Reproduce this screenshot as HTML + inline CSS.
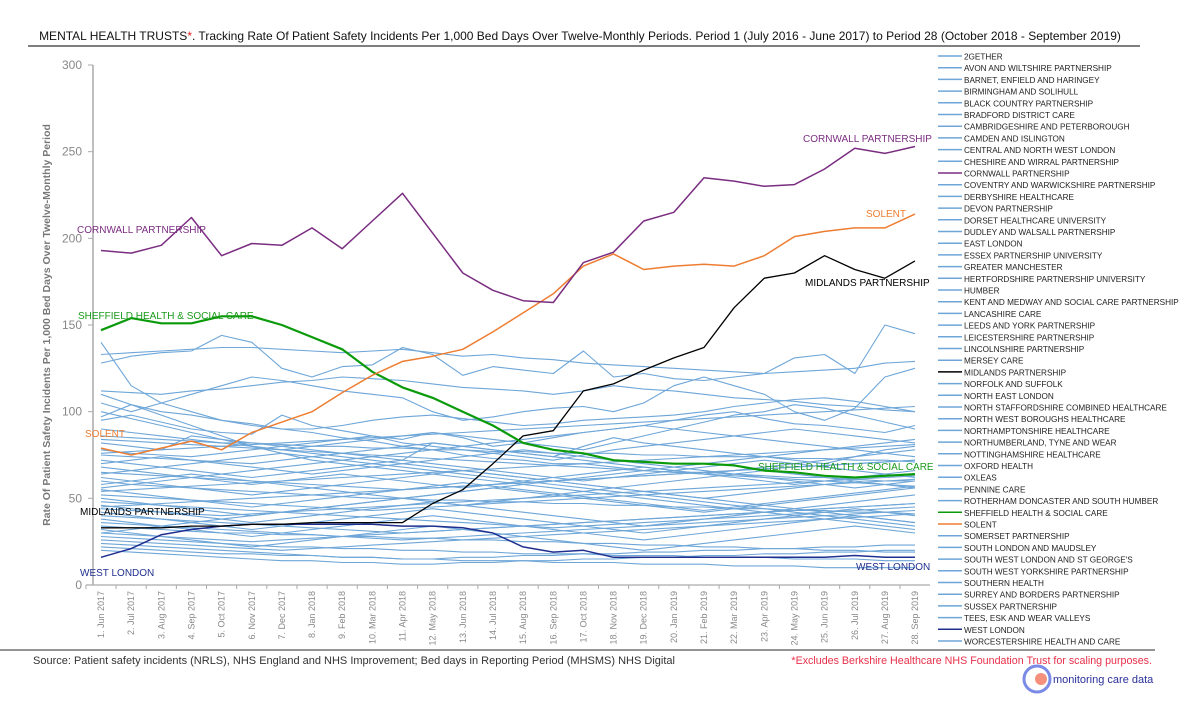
<!DOCTYPE html>
<html><head><meta charset="utf-8"><style>
html,body{margin:0;padding:0;background:#fff;}
svg{display:block;font-family:"Liberation Sans",sans-serif;}
</style></head><body>
<svg id="chart" width="1200" height="726" viewBox="0 0 1200 726">
<text x="580" y="40" text-anchor="middle" font-size="12" fill="#111">MENTAL HEALTH TRUSTS<tspan fill="#e02020">*</tspan>. Tracking Rate Of Patient Safety Incidents Per 1,000 Bed Days Over Twelve-Monthly Periods. Period 1 (July 2016 - June 2017) to Period 28 (October 2018 - September 2019)</text>
<line x1="28" y1="46" x2="1140" y2="46" stroke="#333" stroke-width="1.2"/>
<text transform="translate(50,325) rotate(-90)" text-anchor="middle" font-size="10.5" font-weight="bold" fill="#777">Rate Of Patient Safety Incidents Per 1,000 Bed Days Over Twelve-Monthly Period</text>
<g id="yaxis"></g><g id="xaxis"></g><g id="series"></g><g id="legend"></g>
<g font-size="10">
<text x="77" y="233" fill="#7a2d80">CORNWALL PARTNERSHIP</text>
<text x="803" y="142" fill="#7a2d80">CORNWALL PARTNERSHIP</text>
<text x="866" y="217" fill="#ed7d31">SOLENT</text>
<text x="85" y="437" fill="#ed7d31">SOLENT</text>
<text x="805" y="286" fill="#000">MIDLANDS PARTNERSHIP</text>
<text x="80" y="515" fill="#000">MIDLANDS PARTNERSHIP</text>
<text x="78" y="319" fill="#1a9a1a">SHEFFIELD HEALTH &amp; SOCIAL CARE</text>
<text x="758" y="470" fill="#1a9a1a">SHEFFIELD HEALTH &amp; SOCIAL CARE</text>
<text x="80" y="576" fill="#1f2f8f">WEST LONDON</text>
<text x="856" y="570" fill="#1f2f8f">WEST LONDON</text>
</g>
<line x1="0" y1="650" x2="1155" y2="650" stroke="#555" stroke-width="1.2"/>
<text x="33" y="664" font-size="11" fill="#333">Source: Patient safety incidents (NRLS), NHS England and NHS Improvement; Bed days in Reporting Period (MHSMS) NHS Digital</text>
<text x="1152" y="664" text-anchor="end" font-size="10.7" fill="#e8304a">*Excludes Berkshire Healthcare NHS Foundation Trust for scaling purposes.</text>
<g>
<circle cx="1037" cy="679" r="13" fill="none" stroke="#7a8ae6" stroke-width="3"/>
<circle cx="1041" cy="679" r="6" fill="#f4907c"/>
<text x="1053" y="683" font-size="11" fill="#2a2f9a">monitoring care data</text>
</g>
</svg>
<script>
const periods=["1. Jun 2017","2. Jul 2017","3. Aug 2017","4. Sep 2017","5. Oct 2017","6. Nov 2017","7. Dec 2017","8. Jan 2018","9. Feb 2018","10. Mar 2018","11. Apr 2018","12. May 2018","13. Jun 2018","14. Jul 2018","15. Aug 2018","16. Sep 2018","17. Oct 2018","18. Nov 2018","19. Dec 2018","20. Jan 2019","21. Feb 2019","22. Mar 2019","23. Apr 2019","24. May 2019","25. Jun 2019","26. Jul 2019","27. Aug 2019","28. Sep 2019"];
const yTicks=[0,50,100,150,200,250,300];
const trustNames=["2GETHER","AVON AND WILTSHIRE  PARTNERSHIP","BARNET, ENFIELD AND HARINGEY","BIRMINGHAM AND SOLIHULL","BLACK COUNTRY PARTNERSHIP","BRADFORD DISTRICT CARE","CAMBRIDGESHIRE AND PETERBOROUGH","CAMDEN AND ISLINGTON","CENTRAL AND NORTH WEST LONDON","CHESHIRE AND WIRRAL PARTNERSHIP","CORNWALL PARTNERSHIP","COVENTRY AND WARWICKSHIRE PARTNERSHIP","DERBYSHIRE HEALTHCARE","DEVON PARTNERSHIP","DORSET HEALTHCARE UNIVERSITY","DUDLEY AND WALSALL  PARTNERSHIP","EAST LONDON","ESSEX PARTNERSHIP UNIVERSITY","GREATER MANCHESTER","HERTFORDSHIRE PARTNERSHIP UNIVERSITY","HUMBER","KENT AND MEDWAY  AND SOCIAL CARE PARTNERSHIP","LANCASHIRE CARE","LEEDS AND YORK PARTNERSHIP","LEICESTERSHIRE PARTNERSHIP","LINCOLNSHIRE PARTNERSHIP","MERSEY CARE","MIDLANDS PARTNERSHIP","NORFOLK AND SUFFOLK","NORTH EAST LONDON","NORTH STAFFORDSHIRE COMBINED HEALTHCARE","NORTH WEST BOROUGHS HEALTHCARE","NORTHAMPTONSHIRE HEALTHCARE","NORTHUMBERLAND, TYNE AND WEAR","NOTTINGHAMSHIRE HEALTHCARE","OXFORD HEALTH","OXLEAS","PENNINE CARE","ROTHERHAM DONCASTER AND SOUTH HUMBER","SHEFFIELD HEALTH & SOCIAL CARE","SOLENT","SOMERSET PARTNERSHIP","SOUTH LONDON AND MAUDSLEY","SOUTH WEST LONDON AND ST GEORGE'S","SOUTH WEST YORKSHIRE PARTNERSHIP","SOUTHERN HEALTH","SURREY AND BORDERS PARTNERSHIP","SUSSEX PARTNERSHIP","TEES, ESK AND WEAR VALLEYS","WEST LONDON","WORCESTERSHIRE HEALTH AND CARE"];
const cornwall=[193,191.5,196,212,190,197,196,206,194,210,226,203,180,170,164,163,186,192,210,215,235,233,230,231,240,252,249,253];
const solent=[79,75,79,83,78,88,94,100,111,121,129,132,136,146,157,168,184,191,182,184,185,184,190,201,204,206,206,214];
const sheffield=[147,154,151,151,155,155,150,143,136,123,114,108,100,92,82,78,76,72,71,70,70,69,66,65,63,62,63,64];
const midlands=[33,33,33,34,34,35,35,36,36,36,36,47,55,70,86,89,112,116,124,131,137,160,177,180,190,182,177,187];
const westLondon=[16,21,29,32,34,35,35,35,35,35,34,34,33,30,22,19,20,16,16,16,16,16,16,16,16,17,16,16];
const other1=[140,115,105,100,95,93,90,88,85,83,80,78,75,73,72,70,70,68,66,65,65,64,63,62,62,61,60,60];
const other2=[133,134,135,136,137,137,136,135,134,135,136,134,132,133,131,130,128,127,126,125,124,123,122,123,124,125,128,129];
const other3=[128,132,134,135,144,140,125,120,126,127,137,133,121,126,124,122,135,120,122,119,118,120,122,131,133,122,150,145];
const other4=[112,111,110,112,113,115,117,118,120,119,118,116,114,113,112,110,112,115,113,112,110,108,107,106,104,103,101,100];
const other5=[105,100,105,110,115,120,118,115,112,110,108,100,95,97,100,102,103,100,105,115,120,115,110,100,95,102,120,125];
const other6=[97,104,100,98,95,92,90,90,92,95,97,98,96,94,92,93,95,96,97,98,100,103,105,107,108,106,103,100];
const other7=[95,98,94,90,88,87,98,92,89,86,84,88,85,80,82,85,88,90,92,95,98,100,96,93,92,90,88,92];
const other8=[90,88,86,84,82,80,78,80,82,84,86,88,86,84,82,80,78,82,86,90,94,98,100,104,102,98,94,90];
const other9=[86,85,84,83,82,82,81,80,80,79,79,78,78,77,77,76,76,76,75,75,74,74,74,73,73,72,72,71];
const other10=[82,80,78,86,84,82,80,78,76,74,72,82,80,78,76,74,80,85,82,80,78,76,74,72,70,74,78,80];
const other11=[78,76,75,74,76,78,80,82,84,86,82,80,78,76,74,72,75,78,80,82,84,86,88,90,88,86,84,82];
const other12=[75,74,73,72,71,70,72,74,76,78,80,82,80,78,76,74,72,70,68,66,64,66,68,70,72,74,76,78];
const other13=[72,70,68,66,64,62,64,66,68,70,72,70,68,66,64,62,60,62,64,66,68,70,72,70,68,66,64,62];
const other14=[70,72,74,72,70,68,66,64,66,68,70,72,74,76,78,76,74,72,70,68,66,64,62,60,58,56,58,60];
const other15=[68,66,64,62,60,58,60,62,64,62,60,58,56,58,60,62,64,66,68,66,64,62,60,58,60,62,64,66];
const other16=[65,64,63,62,61,60,59,58,57,56,55,56,57,58,59,60,61,62,63,64,65,66,67,68,69,70,71,72];
const other17=[62,60,58,56,54,52,54,56,58,60,62,64,66,64,62,60,58,56,54,52,50,52,54,56,58,60,58,56];
const other18=[60,58,57,56,55,54,53,52,51,50,50,49,49,48,48,47,47,46,46,45,45,44,44,43,43,42,42,41];
const other19=[58,60,62,64,62,60,58,56,54,52,50,48,46,48,50,52,54,56,58,60,62,64,66,64,62,60,58,56];
const other20=[55,53,51,49,47,45,47,49,51,53,55,57,59,57,55,53,51,49,47,45,43,45,47,49,51,53,55,57];
const other21=[52,51,50,49,48,47,46,45,44,43,44,45,46,47,48,49,50,51,52,53,54,55,56,57,58,59,60,61];
const other22=[50,48,46,44,42,40,42,44,46,48,50,52,54,56,54,52,50,48,46,44,42,44,46,48,50,52,54,56];
const other23=[48,47,46,45,44,43,42,41,40,39,38,37,36,35,34,33,34,35,36,37,38,39,40,41,42,43,44,45];
const other24=[46,44,42,40,38,36,38,40,42,44,46,48,46,44,42,40,38,36,34,36,38,40,42,44,46,48,50,52];
const other25=[44,43,42,41,40,41,42,43,44,45,46,47,48,49,50,51,52,53,54,55,56,57,58,59,60,61,62,63];
const other26=[42,40,38,36,34,32,34,36,38,40,42,44,42,40,38,36,34,32,30,32,34,36,38,40,42,44,42,40];
const other27=[40,39,38,37,36,35,34,33,32,31,30,31,32,33,34,35,36,37,38,39,40,41,42,43,44,45,46,47];
const other28=[38,36,34,32,30,28,30,32,34,36,38,40,38,36,34,32,30,28,26,28,30,32,34,36,38,40,38,36];
const other29=[36,35,34,33,32,31,30,29,28,27,26,27,28,29,30,31,32,33,34,35,36,37,38,39,40,41,42,43];
const other30=[34,33,32,31,30,30,29,29,28,28,27,27,26,26,25,25,24,24,23,23,22,22,21,21,20,20,19,19];
const other31=[32,30,28,26,24,22,24,26,28,30,32,34,32,30,28,26,24,22,20,22,24,26,28,30,32,34,32,30];
const other32=[30,29,28,27,26,25,26,27,28,29,30,31,32,33,34,35,36,37,38,39,40,41,42,43,44,45,46,47];
const other33=[28,27,26,25,24,23,22,22,21,21,20,20,19,19,18,18,18,17,17,17,16,16,16,15,15,15,14,14];
const other34=[26,25,24,23,22,21,20,21,22,23,24,25,26,27,28,29,30,31,32,33,34,35,36,37,38,39,40,41];
const other35=[24,23,22,21,20,19,18,17,16,16,15,15,14,14,14,13,13,13,12,12,12,11,11,11,10,10,10,10];
const other36=[22,21,20,19,18,18,17,17,16,16,15,15,16,16,17,17,18,18,19,19,20,20,21,21,22,22,23,23];
const other37=[20,19,18,17,16,15,14,14,13,13,12,12,13,13,14,14,15,15,16,16,17,17,18,18,19,19,20,20];
const other38=[100,96,92,88,84,80,76,72,70,68,66,64,62,60,58,56,54,52,50,48,46,44,42,40,38,36,34,32];
const other39=[56,58,60,62,64,66,68,70,72,74,76,78,80,82,84,86,88,90,92,90,88,86,84,82,80,78,76,74];
const other40=[64,66,68,70,72,74,76,74,72,70,68,66,64,62,60,58,56,54,52,50,48,46,44,42,40,38,36,34];
const other41=[110,104,98,92,86,80,78,76,74,72,70,68,66,64,62,60,58,56,54,52,50,48,46,44,42,40,38,36];
const other42=[84,83,82,81,80,79,78,77,76,75,74,73,72,71,70,69,68,67,66,65,64,63,62,61,60,59,58,57];
const other43=[30,32,34,36,38,40,42,44,46,48,50,52,54,56,58,60,62,64,66,68,70,72,74,76,78,80,82,84];
const other44=[76,77,78,79,80,81,82,83,84,85,86,87,88,89,90,91,92,93,94,95,96,97,98,99,100,101,102,103];
const other45=[54,55,56,57,58,59,60,61,62,63,64,65,66,67,68,69,70,71,72,73,74,75,76,77,78,79,80,81];
const other46=[45,46,47,48,49,50,51,52,53,54,55,56,57,58,59,60,61,62,63,64,65,66,67,68,69,70,71,72];

const others=[other1,other2,other3,other4,other5,other6,other7,other8,other9,other10,other11,other12,other13,other14,other15,other16,other17,other18,other19,other20,other21,other22,other23,other24,other25,other26,other27,other28,other29,other30,other31,other32,other33,other34,other35,other36,other37,other38,other39,other40,other41,other42,other43,other44,other45,other46];
const NS="http://www.w3.org/2000/svg";
const X0=101,DX=30.15,Y0=585,YPU=520/300;
function xs(i){return X0+i*DX;}
function ys(v){return Y0-v*YPU;}
function mk(tag,attrs,parent){const e=document.createElementNS(NS,tag);for(const k in attrs)e.setAttribute(k,attrs[k]);parent.appendChild(e);return e;}
const yaxis=document.getElementById('yaxis');
const ax=mk('line',{x1:93,y1:ys(300),x2:93,y2:Y0,stroke:'#aaa','stroke-width':1.5},yaxis);


yTicks.forEach(t=>{
 const tk=mk('line',{x1:88,y1:ys(t),x2:93,y2:ys(t),stroke:'#aaa'},yaxis);
 
 
 const lb=mk('text',{x:82,y:ys(t)+4,'text-anchor':'end','font-size':12,fill:'#888'},yaxis);
 lb.textContent=t;
 
 
});
const xaxis=document.getElementById('xaxis');
const xl=mk('line',{x1:86,y1:Y0,x2:930,y2:Y0,stroke:'#aaa','stroke-width':1.2},xaxis);


periods.forEach((p,i)=>{
 const tk=mk('line',{x1:xs(i)-DX/2,y1:Y0,x2:xs(i)-DX/2,y2:Y0+4,stroke:'#aaa'},xaxis);
 
 
 const lb=mk('text',{transform:`translate(${xs(i)+3},${Y0+6}) rotate(-90)`,'text-anchor':'end','font-size':9,fill:'#888'},xaxis);
 lb.textContent=p;
 
 
});
const sg=document.getElementById('series');
function drawLine(arr,color,w,name){
 const pts=arr.map((v,i)=>xs(i).toFixed(1)+','+ys(v).toFixed(1)).join(' ');
 const pl=mk('polyline',{points:pts,fill:'none',stroke:color,'stroke-width':w,'stroke-linejoin':'round'},sg);
 
 
}
others.forEach((a,i)=>drawLine(a,'#6ea6d8',1.1,'series-line'));
drawLine(westLondon,'#1f2f8f',1.5,'west-london-line');
drawLine(midlands,'#000',1.3,'midlands-line');
drawLine(sheffield,'#0a9a0a',2.2,'sheffield-line');
drawLine(solent,'#ed7d31',1.5,'solent-line');
drawLine(cornwall,'#7a2d80',1.5,'cornwall-line');
const lg=document.getElementById('legend');
trustNames.forEach((n,i)=>{
 const y=56+i*11.7;
 let c='#6ea6d8';
 if(n==='CORNWALL PARTNERSHIP')c='#7a2d80';
 else if(n==='MIDLANDS PARTNERSHIP')c='#000';
 else if(n==='SHEFFIELD HEALTH & SOCIAL CARE')c='#0a9a0a';
 else if(n==='SOLENT')c='#ed7d31';
 else if(n==='WEST LONDON')c='#1f2f8f';
 const g=mk('g',{},lg);
 
 
 mk('line',{x1:938,y1:y,x2:962,y2:y,stroke:c,'stroke-width':1.5},g);
 const t=mk('text',{x:964,y:y+3.5,'font-size':8.2,fill:'#222'},g);
 t.textContent=n;
});
</script>
</body></html>
